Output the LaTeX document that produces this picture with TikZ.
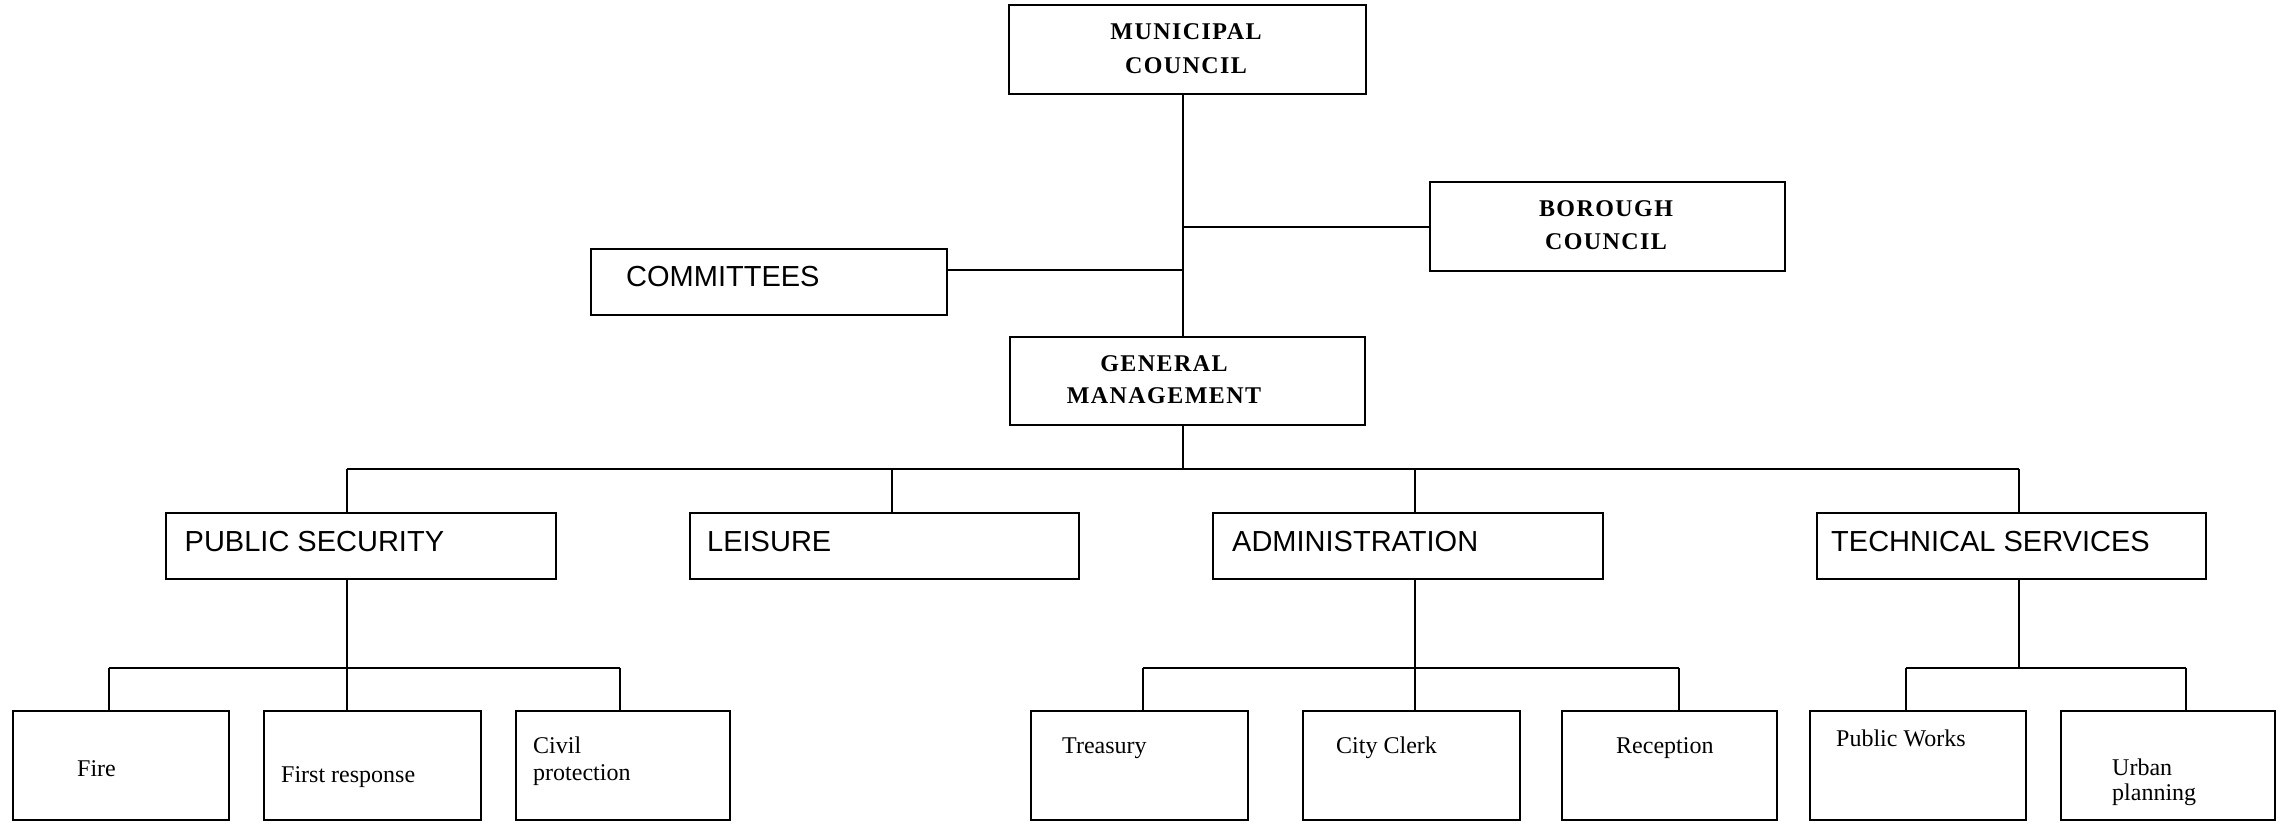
\documentclass[tikz,border=0pt]{standalone}
\usepackage{fontspec}
\setmainfont{Liberation Serif}
\newfontfamily\arialf{Liberation Sans}
\begin{document}
\begin{tikzpicture}[x=1pt,y=-1pt,
 box/.style={draw, line width=2pt, inner sep=0pt, outer sep=0pt},
 conn/.style={line width=2pt},
 hdr/.style={anchor=base, inner sep=0pt, font=\fontsize{24}{30}\selectfont\bfseries\addfontfeatures{LetterSpace=6}},
 sect/.style={anchor=base west, inner sep=0pt, font=\arialf\fontsize{29}{34}\selectfont},
 leaf/.style={anchor=base west, inner sep=0pt, font=\fontsize{24}{28}\selectfont}]
\fill[white] (0,0) rectangle (2277,822);
\useasboundingbox (0,0) rectangle (2277,822);

% top level boxes
\node[box, minimum width=357pt, minimum height=89pt] (mc) at (1187.5,49.5) {};
\node[box, minimum width=355pt, minimum height=89pt] (borough) at (1607.5,226.5) {};
\node[box, minimum width=356pt, minimum height=66pt] (committees) at (769,282) {};
\node[box, minimum width=355pt, minimum height=88pt] (gm) at (1187.5,381) {};

\node[hdr] (mcT1) at (1186,39) {MUNICIPAL};
\node[hdr] (mcT2) at (1186,73) {COUNCIL};
\node[hdr] (boT1) at (1606,216) {BOROUGH};
\node[hdr] (boT2) at (1606,249) {COUNCIL};
\node[hdr] (gmT1) at (1164,371) {GENERAL};
\node[hdr] (gmT2) at (1164,403) {MANAGEMENT};
\node[sect] (coT) at (626,286) {COMMITTEES};

% sections
\node[box, minimum width=390pt, minimum height=66pt] (ps) at (361,546) {};
\node[box, minimum width=389pt, minimum height=66pt] (le) at (884.5,546) {};
\node[box, minimum width=390pt, minimum height=66pt] (ad) at (1408,546) {};
\node[box, minimum width=389pt, minimum height=66pt] (ts) at (2011.5,546) {};
\node[sect] (psT) at (184.5,551) {PUBLIC SECURITY};
\node[sect] (leT) at (707,551) {LEISURE};
\node[sect] (adT) at (1232,551) {ADMINISTRATION};
\node[sect] (tsT) at (1831,551) {TECHNICAL SERVICES};

% leaves
\node[box, minimum width=216pt, minimum height=109pt] (fire) at (121,765.5) {};
\node[box, minimum width=217pt, minimum height=109pt] (fr) at (372.5,765.5) {};
\node[box, minimum width=214pt, minimum height=109pt] (cp) at (623,765.5) {};
\node[box, minimum width=217pt, minimum height=109pt] (tr) at (1139.5,765.5) {};
\node[box, minimum width=217pt, minimum height=109pt] (cc) at (1411.5,765.5) {};
\node[box, minimum width=215pt, minimum height=109pt] (re) at (1669.5,765.5) {};
\node[box, minimum width=216pt, minimum height=109pt] (pw) at (1918,765.5) {};
\node[box, minimum width=214pt, minimum height=109pt] (up) at (2168,765.5) {};

\node[leaf] (fireT) at (77,776) {Fire};
\node[leaf] (frT) at (281,782) {First response};
\node[leaf] (cpT1) at (533,753) {Civil};
\node[leaf] (cpT2) at (533,780) {protection};
\node[leaf] (trT) at (1062,753) {Treasury};
\node[leaf] (ccT) at (1336,753) {City Clerk};
\node[leaf] (reT) at (1616,753) {Reception};
\node[leaf] (pwT) at (1836,746) {Public Works};
\node[leaf] (upT1) at (2112,775) {Urban};
\node[leaf] (upT2) at (2112,800) {planning};

% connectors: top
\coordinate (trunk) at (1183,0);
\draw[conn] (mc.south -| trunk) -- (gm.north -| trunk);
\draw[conn] (trunk |- borough.west) -- (borough.west);
\coordinate (cj) at (1183,270);
\draw[conn] (cj) -- (cj -| committees.east);

% level 2 bus
\coordinate (psL) at (346.5,469);
\coordinate (leL) at (892,469);
\coordinate (adL) at (1415,469);
\coordinate (tsL) at (2019,469);
\draw[conn] (gm.south -| trunk) -- (trunk |- psL);
\draw[conn] (psL) -- (tsL);
\draw[conn] (psL) -- (psL |- ps.north);
\draw[conn] (leL) -- (leL |- le.north);
\draw[conn] (adL) -- (adL |- ad.north);
\draw[conn] (tsL) -- (tsL |- ts.north);

% level 3 buses
\coordinate (fireJ) at (109,668);
\coordinate (cpJ) at (620,668);
\draw[conn] (psL |- ps.south) -- (psL |- fr.north);
\draw[conn] (fireJ) -- (cpJ);
\draw[conn] (fireJ) -- (fireJ |- fire.north);
\draw[conn] (cpJ) -- (cpJ |- cp.north);

\coordinate (trJ) at (1143,668);
\coordinate (reJ) at (1679,668);
\draw[conn] (adL |- ad.south) -- (adL |- cc.north);
\draw[conn] (trJ) -- (reJ);
\draw[conn] (trJ) -- (trJ |- tr.north);
\draw[conn] (reJ) -- (reJ |- re.north);

\coordinate (pwJ) at (1906,668);
\coordinate (upJ) at (2186,668);
\draw[conn] (tsL |- ts.south) -- (tsL |- pwJ);
\draw[conn] (pwJ) -- (upJ);
\draw[conn] (pwJ) -- (pwJ |- pw.north);
\draw[conn] (upJ) -- (upJ |- up.north);
\end{tikzpicture}
\end{document}
